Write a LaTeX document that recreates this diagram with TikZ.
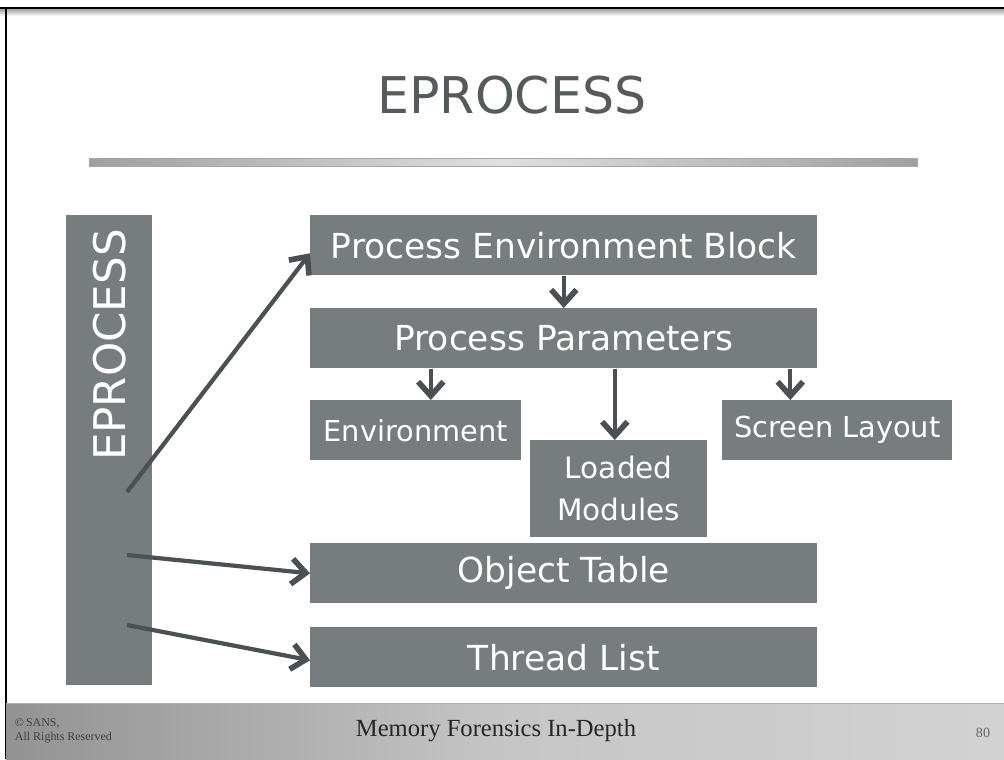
\documentclass[tikz,border=0pt]{standalone}
\usepackage{fontspec}
\setmainfont{DejaVu Sans}
\newfontfamily\footfont{Liberation Serif}
\usetikzlibrary{arrows.meta}
\usetikzlibrary{calc}

\definecolor{boxgray}{HTML}{777C7F}
\definecolor{arrgray}{HTML}{4B5053}
\definecolor{titlegray}{HTML}{555A5D}

\tikzset{
  box/.style={draw=none, fill=boxgray, text=white, inner sep=0pt, anchor=north west},
  link/.style={arrgray, line width=3pt, -{Straight Barb[length=10pt,width=18pt,line width=4pt]}}
}

\begin{document}
\begin{tikzpicture}[x=0.025cm, y=-0.025cm]
\useasboundingbox (0,0) rectangle (1004,759);
\fill[white] (0,0) rectangle (1004,759);
% slide frame
\shade[top color=gray!70, bottom color=white] (0,9) rectangle (1004,16);
\draw[line width=1.2pt] (0,8) -- (1004,8);
\draw[line width=1.2pt] (6,8) -- (6,759);

% title and rule
\node[text=titlegray, font=\fontsize{36}{38}\selectfont] (title) at (512,95) {EPROCESS};
\shade[left color=gray!75, right color=gray!75, middle color=gray!25, draw=gray!70] (89,158) rectangle (917,166);

% boxes
\node[box, minimum width=86*0.025cm, minimum height=470*0.025cm] (eproc) at (66,215) {};
\node[text=white, rotate=90, font=\fontsize{31}{33}\selectfont] (eproclbl) at (110,345) {EPROCESS};
\node[box, minimum width=507*0.025cm, minimum height=60*0.025cm, font=\fontsize{24.5}{26}\selectfont] (peb) at (310,215) {Process Environment Block};
\node[box, minimum width=507*0.025cm, minimum height=60*0.025cm, font=\fontsize{24.5}{26}\selectfont] (params) at (310,308) {Process Parameters};
\node[box, minimum width=211*0.025cm, minimum height=60*0.025cm, font=\fontsize{20.5}{22}\selectfont] (env) at (310,400) {Environment};
\node[box, minimum width=177*0.025cm, minimum height=97*0.025cm, font=\fontsize{21}{30}\selectfont, align=center] (mods) at (530,440) {Loaded\\Modules};
\node[box, minimum width=230*0.025cm, minimum height=60*0.025cm, font=\fontsize{20.5}{22}\selectfont] (screen) at (722,400) {Screen Layout};
\node[box, minimum width=507*0.025cm, minimum height=60*0.025cm, font=\fontsize{24.5}{26}\selectfont] (objtab) at (310,543) {Object Table};
\node[box, minimum width=507*0.025cm, minimum height=60*0.025cm, font=\fontsize{24.5}{26}\selectfont] (thrlist) at (310,627) {Thread List};

% arrows out of the EPROCESS bar
\coordinate (e1) at (127,492);
\coordinate (e2) at (127,555);
\coordinate (e3) at (127,625);
\draw[link] (e1) -- ([yshift=-8*0.025cm]peb.west);
\draw[link] (e2) -- (objtab.west);
\draw[link] (e3) -- ([yshift=-3*0.025cm]thrlist.west);

% arrows down the tree
\draw[link] ($(peb.south)+(0,0)$) -- (params.north);
\draw[link] ($(params.south -| env.north)+(15,0)$) -- ($(env.north)+(15,0)$);
\draw[link] ($(params.south -| mods.north)+(-4,0)$) -- ($(mods.north)+(-4,0)$);
\draw[link] ($(params.south -| screen.north)+(-47,0)$) -- ($(screen.north)+(-47,0)$);

% footer
\shade[left color=gray!85, right color=gray!35, middle color=gray!45] (6,703) rectangle (1004,759);
\draw[gray!60] (6,703) -- (1004,703);
\node[font=\footfont\fontsize{17.5}{19}\selectfont, text=black!85] (foot) at (496,731) {Memory Forensics In-Depth};
\node[font=\footfont\fontsize{8.5}{10}\selectfont, text=black!75, align=left, anchor=west] (copy) at (10,731) {\copyright\,SANS,\\All Rights Reserved};
\node[font=\footfont\fontsize{10}{11}\selectfont, text=black!60] (pageno) at (983,733) {80};
\end{tikzpicture}
\end{document}
